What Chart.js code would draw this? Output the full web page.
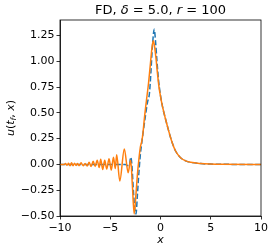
<!DOCTYPE html>
<html>
<head>
<meta charset="utf-8">
<script src="https://cdn.jsdelivr.net/npm/chart.js@4"></script>
<style>
  html, body { margin: 0; padding: 0; background: #fff; }
  #wrap { width: 274px; height: 252px; }
</style>
</head>
<body>
<div id="wrap"><canvas id="fdChart" width="274" height="252"></canvas></div>
<script>
// exact solution (blue, dashed)
const exactX = [-10, -3.5, -3.3, -3.1, -2.97, -2.85, -2.7, -2.55, -2.44, -2.3, -2.2, -2.0, -1.85, -1.7, -1.5, -1.3, -1.1, -0.95, -0.8, -0.62, -0.5, -0.35, -0.2, 0, 0.2, 0.5, 0.8, 1.1, 1.5, 2.0, 2.5, 3.0, 4.0, 5.0, 6.0, 10];
const exactY = [0, 0, -0.01, -0.01, 0.07, 0.0, -0.25, -0.44, -0.48, -0.3, -0.15, 0.1, 0.22, 0.33, 0.47, 0.6, 0.69, 0.9, 1.15, 1.31, 1.2, 1.0, 0.82, 0.67, 0.56, 0.44, 0.33, 0.23, 0.13, 0.065, 0.035, 0.02, 0.008, 0.003, 0.001, 0];

// finite difference solution (orange)
const fdX = [-10, -9.6, -9.45, -9.3, -9.15, -9.0, -8.85, -8.7, -8.55, -8.4, -8.25, -8.1, -7.9, -7.7, -7.5, -7.3, -7.1, -6.9, -6.7, -6.5, -6.3, -6.1, -5.95, -5.75, -5.55, -5.35, -5.12, -4.9, -4.68, -4.5, -4.36, -4.05, -3.6, -3.22, -2.97, -2.8, -2.62, -2.45, -2.3, -2.15, -2.0, -1.87, -1.75, -1.6, -1.4, -1.2, -1.0, -0.85, -0.72, -0.6, -0.45, -0.3, -0.15, 0, 0.2, 0.5, 0.8, 1.1, 1.5, 2.0, 2.5, 3.0, 4.0, 5.0, 6.0, 10];
const fdY = [0, 0, 0.008, -0.008, 0.012, -0.012, 0.015, -0.012, 0.012, -0.01, 0.01, -0.012, 0.015, -0.012, 0.01, -0.015, 0.02, -0.02, 0.03, -0.02, 0.04, -0.03, 0.05, -0.05, 0.04, -0.045, 0.055, -0.055, 0.07, -0.04, 0.094, -0.16, 0.15, -0.08, 0.04, -0.2, -0.48, -0.3, -0.1, 0.05, 0.17, 0.22, 0.3, 0.45, 0.62, 0.78, 0.98, 1.13, 1.2, 1.15, 1.03, 0.88, 0.75, 0.66, 0.56, 0.44, 0.33, 0.23, 0.13, 0.065, 0.035, 0.02, 0.008, 0.003, 0.001, 0];

const xTicks = [-10, -5, 0, 5, 10];
const yTicks = [-0.5, -0.25, 0, 0.25, 0.5, 0.75, 1.0, 1.25];

const FONT = '"DejaVu Sans", sans-serif';
const minus = s => s.replace('-', '\u2212');

// draw a run of text pieces with mixed styles, centred on (cx, cy)
function drawPieces(ctx, pieces, cx, cy, size) {
    const fontOf = p => (p.it ? 'italic ' : '') + (p.sub ? size * 0.7 : size) + 'px ' + FONT;
    let total = 0;
    pieces.forEach(p => { ctx.font = fontOf(p); total += ctx.measureText(p.t).width; });
    let x = cx - total / 2;
    ctx.textBaseline = 'middle';
    ctx.textAlign = 'left';
    pieces.forEach(p => {
        ctx.font = fontOf(p);
        ctx.fillText(p.t, x, cy + (p.sub ? size * 0.3 : 0));
        x += ctx.measureText(p.t).width;
    });
}

const labelsPlugin = {
    id: 'labels',
    afterDraw(chart) {
        const ctx = chart.ctx;
        const a = chart.chartArea;
        ctx.save();
        // frame (top and right spines too)
        ctx.strokeStyle = '#000';
        ctx.lineWidth = 0.8;
        ctx.strokeRect(a.left, a.top, a.right - a.left, a.bottom - a.top);
        ctx.fillStyle = '#000';
        const cx = (a.left + a.right) / 2;
        // title
        drawPieces(ctx, [
            { t: 'FD, ' }, { t: '\u03b4', it: true }, { t: ' = 5.0, ' },
            { t: 'r', it: true }, { t: ' = 100' }
        ], cx, 10.5, 13);
        // x label
        drawPieces(ctx, [{ t: 'x', it: true }], cx, 240, 11);
        // y label
        ctx.translate(11, (a.top + a.bottom) / 2);
        ctx.rotate(-Math.PI / 2);
        drawPieces(ctx, [
            { t: 'u', it: true }, { t: '(' }, { t: 't', it: true }, { t: 'f', it: true, sub: true },
            { t: ', ' }, { t: 'x', it: true }, { t: ')' }
        ], 0, 0, 11);
        ctx.restore();
    }
};

const toPoints = (xs, ys) => xs.map((x, i) => ({ x: x, y: ys[i] }));

new Chart(document.getElementById('fdChart'), {
    type: 'line',
    data: {
        datasets: [{
            label: 'FD',
            data: toPoints(fdX, fdY),
            borderColor: '#ff7f0e',
            borderWidth: 1.5,
            pointRadius: 0,
            cubicInterpolationMode: 'monotone',
            order: 0
        }, {
            label: 'exact',
            data: toPoints(exactX, exactY),
            borderColor: '#1f77b4',
            borderWidth: 1.5,
            borderDash: [5.5, 2.4],
            pointRadius: 0,
            cubicInterpolationMode: 'monotone',
            order: 1
        }]
    },
    options: {
        responsive: false,
        animation: false,
        devicePixelRatio: 1,
        layout: { padding: { top: 20, right: 13, left: 0, bottom: 0 } },
        plugins: { legend: { display: false }, tooltip: { enabled: false }, title: { display: false } },
        scales: {
            x: {
                type: 'linear',
                min: -10,
                max: 10,
                afterFit: s => { s.height = 36; },
                afterBuildTicks: s => { s.ticks = xTicks.map(v => ({ value: v })); },
                grid: { drawOnChartArea: false, tickLength: 3.5, tickColor: '#000', tickWidth: 0.8 },
                border: { display: true, color: '#000', width: 0.8 },
                ticks: {
                    color: '#000', padding: 2, maxRotation: 0,
                    font: { family: 'DejaVu Sans', size: 11 },
                    callback: v => minus(String(v))
                }
            },
            y: {
                type: 'linear',
                min: -0.5,
                max: 1.4,
                afterFit: s => { s.width = 60; },
                afterBuildTicks: s => { s.ticks = yTicks.map(v => ({ value: v })); },
                grid: { drawOnChartArea: false, tickLength: 3.5, tickColor: '#000', tickWidth: 0.8 },
                border: { display: true, color: '#000', width: 0.8 },
                ticks: {
                    color: '#000', padding: 2,
                    font: { family: 'DejaVu Sans', size: 11 },
                    callback: v => minus(v.toFixed(2))
                }
            }
        }
    },
    plugins: [labelsPlugin]
});
</script>
</body>
</html>
